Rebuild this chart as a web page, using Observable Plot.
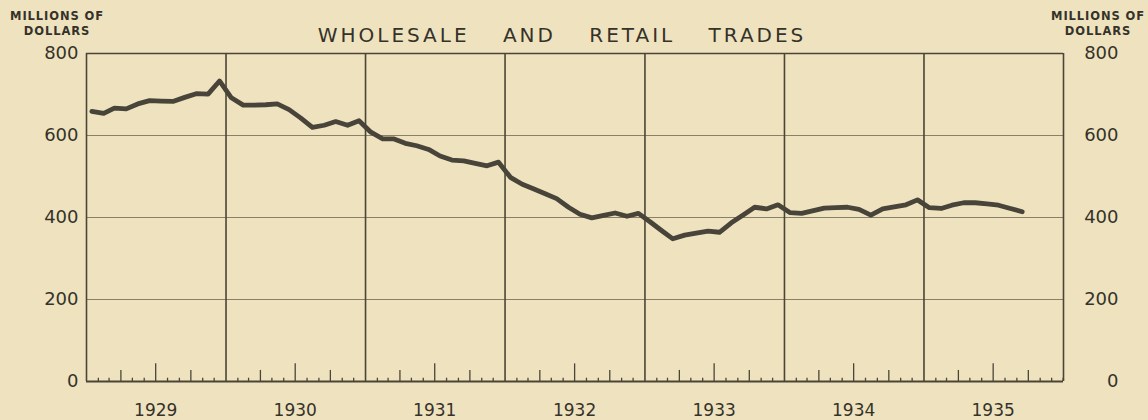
<!DOCTYPE html>
<html>
<head>
<meta charset="utf-8">
<script src="https://cdn.jsdelivr.net/npm/d3@7"></script>
<script src="https://cdn.jsdelivr.net/npm/@observablehq/plot@0.6"></script>
<style>
  html, body { margin: 0; padding: 0; background: #efe3bf; }
  #wrap { width: 1148px; height: 420px; position: relative; font-family: "DejaVu Sans", sans-serif; color: #35322a; }
  #head { position: relative; height: 40px; }
  .unit { position: absolute; top: 9px; width: 120px; text-align: center; font-size: 11.5px; line-height: 15px; letter-spacing: 0.9px; font-weight: 600; }
  #title { position: absolute; left: 0; width: 1124px; top: 24px; text-align: center; font-size: 20px; line-height: 22px; letter-spacing: 3px; word-spacing: 24px; }
</style>
</head>
<body>
<div id="wrap">
  <div id="head">
    <div class="unit" style="left:-3px">MILLIONS OF<br>DOLLARS</div>
    <div class="unit" style="left:1038px">MILLIONS OF<br>DOLLARS</div>
    <div id="title">WHOLESALE AND RETAIL TRADES</div>
  </div>
  <div id="chart"></div>
</div>
<script>
// Monthly values, millions of dollars (Jan..Dec)
const years = [1929, 1930, 1931, 1932, 1933, 1934, 1935];
const v1929 = [659, 654, 667, 665, 677, 685, 684, 683, 693, 702, 701, 733];
const v1930 = [692, 674, 674, 675, 677, 663, 643, 620, 625, 634, 625, 636];
const v1931 = [608, 592, 592, 581, 575, 566, 550, 540, 538, 532, 526, 535];
const v1932 = [498, 481, 470, 458, 446, 425, 408, 399, 405, 411, 403, 410];
const v1933 = [389, 367, 348, 357, 362, 367, 364, 387, 406, 425, 421, 431];
const v1934 = [412, 410, 416, 423, 424, 425, 420, 406, 421, 426, 431, 443];
const v1935 = [424, 422, 430, 436, 436, 433, 430, 422, 414];
const yTicks = [0, 200, 400, 600, 800];

const series = [v1929, v1930, v1931, v1932, v1933, v1934, v1935];
const data = [];
series.forEach((vals, yi) => vals.forEach((v, m) => data.push({date: new Date(Date.UTC(years[yi], m, 15)), value: v})));

const start = new Date(Date.UTC(years[0], 0, 1));
const end = new Date(Date.UTC(years[years.length - 1] + 1, 0, 1));
const yearBounds = years.slice(1).map(y => new Date(Date.UTC(y, 0, 1)));
const yearMids = years.map(y => new Date(Date.UTC(y, 6, 1)));
const months = [];
years.forEach(y => { for (let m = 1; m < 12; m++) months.push({date: new Date(Date.UTC(y, m, 1)), m}); });
months.push({date: new Date(Date.UTC(years[years.length-1], 11, 31)), m: 12});

const ink = "#4a4536";

const chart = Plot.plot({
  width: 1148,
  height: 380,
  marginLeft: 86,
  marginRight: 85,
  marginTop: 13,
  marginBottom: 39,
  style: {background: "transparent", fontFamily: "DejaVu Sans, sans-serif", color: "#35322a", overflow: "visible"},
  x: {type: "utc", domain: [start, end]},
  y: {domain: [0, 800]},
  marks: [
    Plot.ruleY([200, 400, 600], {stroke: "#6e6853", strokeWidth: 1, strokeOpacity: 0.8}),
    Plot.ruleX(yearBounds, {stroke: ink, strokeWidth: 1.6}),
    Plot.ruleX(months.filter(d => d.m !== 3 && d.m !== 6 && d.m !== 9), {x: "date", y1: 0, y2: 8, stroke: ink, strokeWidth: 1.3}),
    Plot.ruleX(months.filter(d => d.m === 3 || d.m === 9), {x: "date", y1: 0, y2: 27, stroke: ink, strokeWidth: 1.3}),
    Plot.ruleX(months.filter(d => d.m === 6), {x: "date", y1: 0, y2: 43, stroke: ink, strokeWidth: 1.3}),
    Plot.ruleX([start, end], {stroke: ink, strokeWidth: 1.6}),
    Plot.ruleY([800], {stroke: ink, strokeWidth: 1.4}),
    Plot.ruleY([0], {stroke: ink, strokeWidth: 2.2}),
    Plot.lineY(data, {x: "date", y: "value", stroke: "#48443a", strokeWidth: 4.8, strokeLinejoin: "round", strokeLinecap: "round"}),
    Plot.axisX({ticks: yearMids, tickSize: 0, tickPadding: 22, tickFormat: d => String(d.getUTCFullYear()), fontSize: 17, label: null}),
    Plot.axisY({anchor: "left", ticks: yTicks, tickSize: 0, tickPadding: 8, fontSize: 18, label: null}),
    Plot.axisY({anchor: "right", ticks: yTicks, tickSize: 0, tickPadding: 55, textAnchor: "end", fontSize: 18, label: null})
  ]
});
document.getElementById("chart").appendChild(chart);
</script>
</body>
</html>
